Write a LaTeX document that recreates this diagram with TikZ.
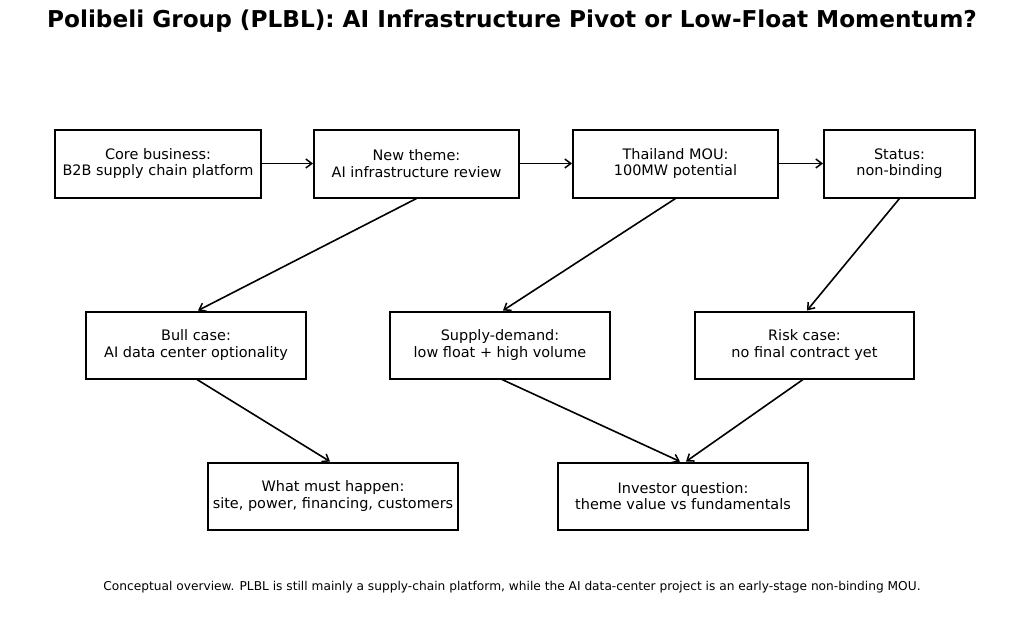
\documentclass[tikz,border=0pt]{standalone}
\usepackage{fontspec}
\setmainfont{DejaVu Sans}
\usetikzlibrary{arrows.meta}
\begin{document}
\begin{tikzpicture}[x=1pt,y=-1pt,
  box/.style={draw=black, line width=2pt, minimum height=68pt, align=center, inner sep=0pt,
    font=\fontsize{14.45}{16.5}\selectfont},
  conn/.style={line width=1.6pt, -{Straight Barb[length=6pt,width=9pt,line width=1.5pt]}}]
\useasboundingbox (0,0) rectangle (1024,616);
\node[font=\bfseries\fontsize{23.2}{28}\selectfont] (title) at (512,21) {Polibeli Group (PLBL): AI Infrastructure Pivot or Low-Float Momentum?};
\node[box, minimum width=206pt] (a) at (158,163.5) {Core business:\\B2B supply chain platform};
\node[box, minimum width=205pt] (b) at (416.5,163.5) {New theme:\\AI infrastructure review};
\node[box, minimum width=205pt] (c) at (675.5,163.5) {Thailand MOU:\\100MW potential};
\node[box, minimum width=151pt] (d) at (899.5,163.5) {Status:\\non-binding};
\node[box, minimum width=220pt, minimum height=67pt] (e) at (196,345) {Bull case:\\AI data center optionality};
\node[box, minimum width=220pt, minimum height=67pt] (f) at (500,345) {Supply-demand:\\low float + high volume};
\node[box, minimum width=219pt, minimum height=67pt] (g) at (804.5,345) {Risk case:\\no final contract yet};
\node[box, minimum width=250pt, minimum height=67pt] (h) at (333,496) {What must happen:\\site, power, financing, customers};
\node[box, minimum width=250pt, minimum height=67pt] (i) at (683,496) {Investor question:\\theme value vs fundamentals};
\node[font=\fontsize{12.2}{14}\selectfont] (foot) at (512,587) {Conceptual overview. PLBL is still mainly a supply-chain platform, while the AI data-center project is an early-stage non-binding MOU.};
\draw[conn] (a.east) -- (b.west);
\draw[conn] (b.east) -- (c.west);
\draw[conn] (c.east) -- (d.west);
\draw[conn] (b.south) -- ([xshift=2pt]e.north);
\draw[conn] (c.south) -- ([xshift=3pt]f.north);
\draw[conn] (d.south) -- ([xshift=2.5pt]g.north);
\draw[conn] ([xshift=1pt]e.south) -- ([xshift=-3pt]h.north);
\draw[conn] ([xshift=2pt]f.south) -- ([xshift=-3pt]i.north);
\draw[conn] ([xshift=-1.5pt]g.south) -- ([xshift=3pt]i.north);
\end{tikzpicture}
\end{document}
